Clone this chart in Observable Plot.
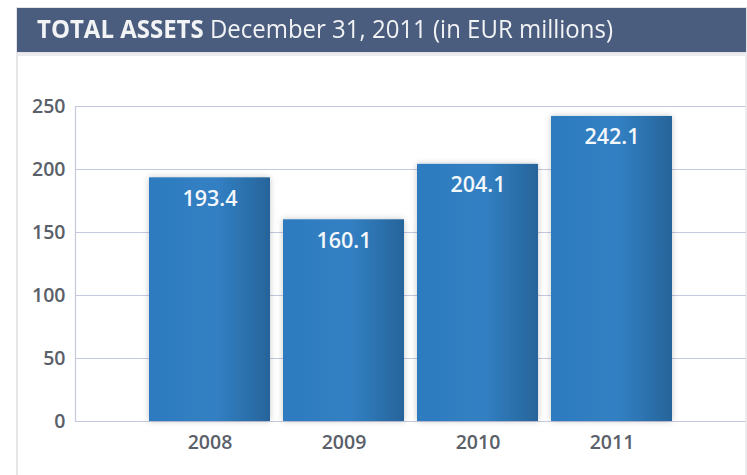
<!DOCTYPE html>
<html>
<head>
<meta charset="utf-8">
<script src="https://cdn.jsdelivr.net/npm/d3@7"></script>
<script src="https://cdn.jsdelivr.net/npm/@observablehq/plot@0.6"></script>
<style>
  html, body { margin: 0; padding: 0; background: #fff; }
  #wrap { position: relative; width: 747px; height: 475px; overflow: hidden; }
  #head { position: absolute; left: 16px; top: 7px; width: 731px; height: 46px;
          background: #4a5d7e; border: 1px solid #e2e3e6; box-sizing: border-box; }
  #head span.t { position: absolute; left: 20px; top: 8px; color: #f2f3f5;
          font-family: "Open Sans", sans-serif; line-height: 1;
          font-size: 25px; white-space: nowrap; transform-origin: 0 0; }
  #head b { font-weight: 700; }
  #shade { position: absolute; left: 16px; top: 53px; width: 731px; height: 3px; background: #ececee; }
  #lb { position: absolute; left: 16px; top: 53px; width: 2px; height: 422px; background: #e6e6e8; }
  #rb { position: absolute; left: 745px; top: 53px; width: 2px; height: 422px; background: #ededf0; }
  #chart { position: absolute; left: 0; top: 58px; }
</style>
</head>
<body>
<div id="wrap">
  <div id="head"><span class="t" id="title"><b>TOTAL ASSETS</b> December 31, 2011 (in EUR millions)</span></div>
  <div id="shade"></div>
  <div id="lb"></div>
  <div id="rb"></div>
  <div id="chart"></div>
</div>
<script>
const years = ["2008", "2009", "2010", "2011"];
const totals = [193.4, 160.1, 204.1, 242.1];
const yTicks = [0, 50, 100, 150, 200, 250];

const data = years.map((year, i) => ({year, value: totals[i]}));

const svg = Plot.plot({
  width: 747,
  height: 417,
  marginLeft: 75,
  marginRight: 1,
  marginTop: 48,
  marginBottom: 54,
  style: {fontFamily: "Open Sans", fontSize: "19.5px", fontWeight: 600, background: "transparent", overflow: "visible"},
  x: {domain: years, paddingInner: 0.1, paddingOuter: 0.553, label: null},
  y: {domain: [0, 250], label: null},
  marks: [
    Plot.ruleY(yTicks, {stroke: "#c5c9df", strokeWidth: 1.2}),
    Plot.frame({anchor: "left", stroke: "#c5c9df", strokeWidth: 1.2}),
    Plot.axisY(yTicks, {tickSize: 0, tickPadding: 10, fill: "#5a6069", label: null}),
    Plot.axisX({tickSize: 0, tickPadding: 14, fill: "#5a6069", label: null}),
    Plot.barY(data, {x: "year", y: "value", fill: "url(#barGrad)"}),
    Plot.text(data, {x: "year", y: "value", text: d => d.value.toFixed(1), fill: "#f4f7fb",
      dy: 21, fontSize: 21.5, fontWeight: 600})
  ]
});

const s = d3.select(svg);
const defs = s.insert("defs", ":first-child");
const g = defs.append("linearGradient").attr("id", "barGrad").attr("x1", 0).attr("x2", 1).attr("y1", 0).attr("y2", 0);
g.append("stop").attr("offset", "0").attr("stop-color", "#2e7bbf");
g.append("stop").attr("offset", "0.55").attr("stop-color", "#3180c3");
g.append("stop").attr("offset", "0.8").attr("stop-color", "#2c71ad");
g.append("stop").attr("offset", "1").attr("stop-color", "#27649a");
const f = defs.append("filter").attr("id", "shadow").attr("x", "-20%").attr("y", "-20%").attr("width", "140%").attr("height", "140%");
f.append("feDropShadow").attr("dx", 0).attr("dy", 0).attr("stdDeviation", 3)
  .attr("flood-color", "#000").attr("flood-opacity", 0.22);
s.selectAll("g[aria-label='bar'] rect").attr("filter", "url(#shadow)");

document.getElementById("chart").appendChild(svg);

// condense the title horizontally to the reference's width
const title = document.getElementById("title");
const w = title.getBoundingClientRect().width;
title.style.transform = `scaleX(${576 / w})`;
</script>
</body>
</html>
